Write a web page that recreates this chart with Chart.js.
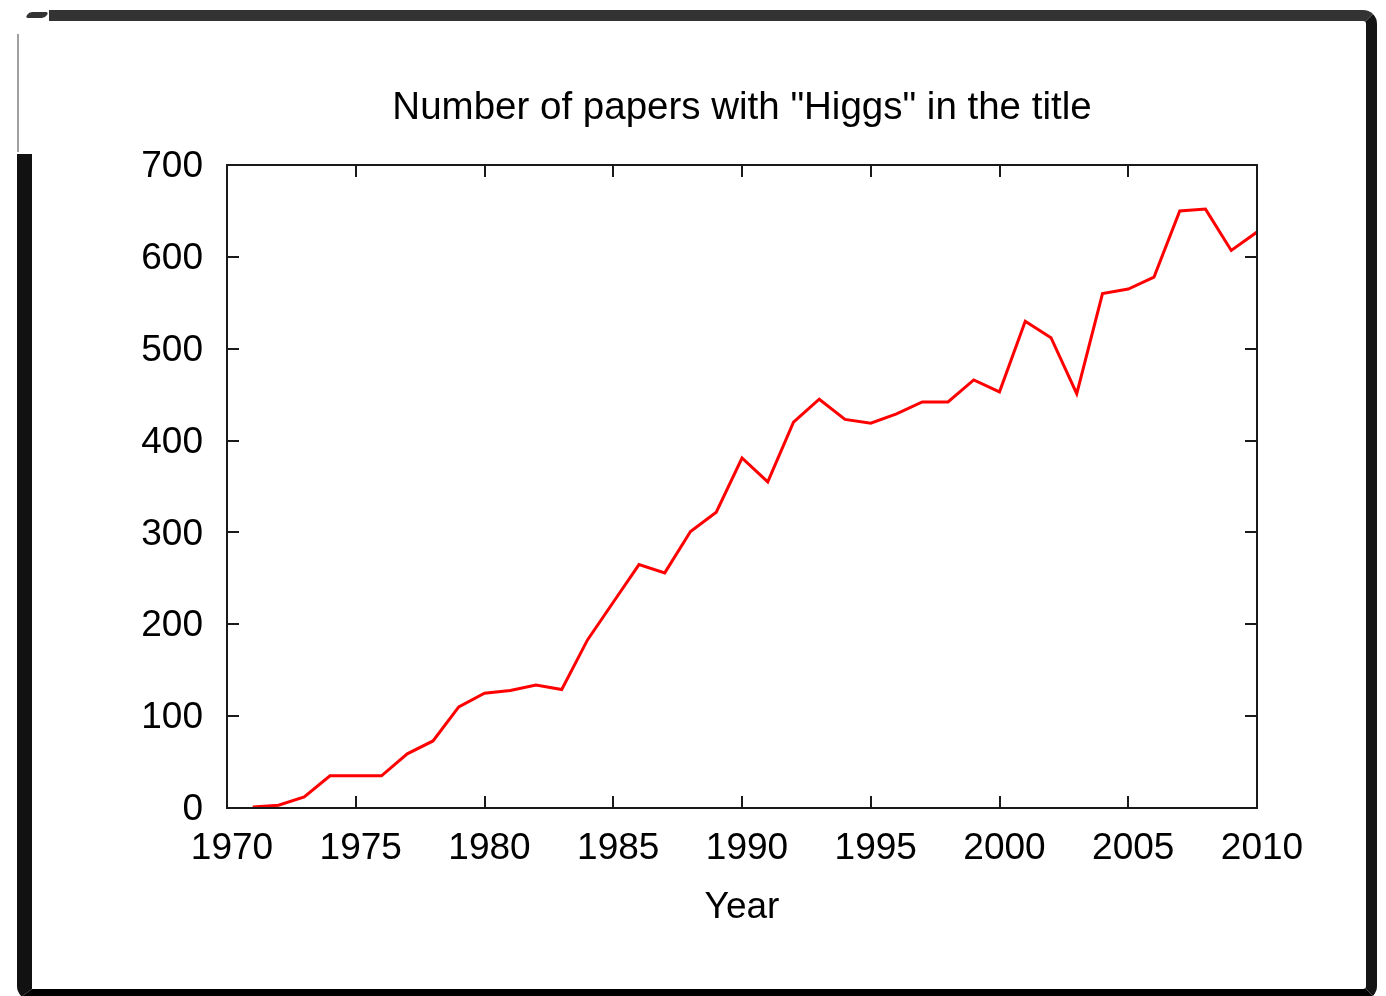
<!DOCTYPE html>
<html>
<head>
<meta charset="utf-8">
<script src="https://cdn.jsdelivr.net/npm/chart.js@4/dist/chart.umd.min.js"></script>
<style>
  html, body { margin: 0; padding: 0; background: #fff; }
  #wrap { position: relative; width: 1386px; height: 996px; overflow: hidden; }
  #chart { position: absolute; left: 0; top: 0; }
  .frame {
    position: absolute; left: 17px; top: 10px; width: 1360px; height: 990px;
    box-sizing: border-box;
    border-top: 11px solid #333;
    border-left: 15px solid #111;
    border-right: 11px solid #151515;
    border-bottom: 11px solid #000;
    border-radius: 14px;
    pointer-events: none;
  }
  .frame-gap { position: absolute; left: 17px; top: 24px; width: 16px; height: 130px; background: #fff; }
  .frame-thin { position: absolute; left: 17px; top: 34px; width: 2px; height: 118px; background: #a0a0a0; }
  .corner-gap { position: absolute; left: 15px; top: 8px; width: 34px; height: 16px; background: #fff; }
  .corner-bit { position: absolute; left: 27px; top: 12px; width: 20px; height: 6px; background: #333;
                border-radius: 3px; transform: skewX(-35deg); }
</style>
</head>
<body>
<div id="wrap">
  <canvas id="chart" width="1386" height="996"></canvas>
  <div class="frame"></div>
  <div class="frame-gap"></div>
  <div class="frame-thin"></div>
  <div class="corner-gap"></div>
  <div class="corner-bit"></div>
</div>
<script>
// Yearly count of papers with "Higgs" in the title
const years = [1971, 1972, 1973, 1974, 1975, 1976, 1977, 1978, 1979, 1980,
               1981, 1982, 1983, 1984, 1985, 1986, 1987, 1988, 1989, 1990,
               1991, 1992, 1993, 1994, 1995, 1996, 1997, 1998, 1999, 2000,
               2001, 2002, 2003, 2004, 2005, 2006, 2007, 2008, 2009, 2010];
const papers = [1, 3, 12, 35, 35, 35, 59, 73, 110, 125,
                128, 134, 129, 183, 224, 265, 256, 301, 322, 381,
                355, 420, 445, 423, 419, 429, 442, 442, 466, 453,
                530, 512, 451, 560, 565, 578, 650, 652, 607, 627];
const xTicks = [1970, 1975, 1980, 1985, 1990, 1995, 2000, 2005, 2010];
const yTicks = [0, 100, 200, 300, 400, 500, 600, 700];

const FONT = "'Liberation Sans', Arial, Helvetica, sans-serif";

// Closed frame around the plot with short ticks pointing inward on all four sides
const boxTicks = {
  id: 'boxTicks',
  afterDraw(chart) {
    const { ctx, chartArea: a, scales } = chart;
    const len = 12;
    ctx.save();
    ctx.strokeStyle = '#1a1a1a';
    ctx.lineWidth = 2;
    ctx.beginPath();
    xTicks.forEach(v => {
      const px = Math.round(scales.x.getPixelForValue(v));
      ctx.moveTo(px, a.bottom); ctx.lineTo(px, a.bottom - len);
      ctx.moveTo(px, a.top); ctx.lineTo(px, a.top + len);
    });
    yTicks.forEach(v => {
      const py = Math.round(scales.y.getPixelForValue(v));
      ctx.moveTo(a.left, py); ctx.lineTo(a.left + len, py);
      ctx.moveTo(a.right, py); ctx.lineTo(a.right - len, py);
    });
    ctx.stroke();
    ctx.strokeRect(a.left, a.top, a.right - a.left, a.bottom - a.top);
    ctx.restore();
  }
};

new Chart(document.getElementById('chart'), {
  type: 'line',
  data: {
    datasets: [{
      data: years.map((y, i) => ({ x: y, y: papers[i] })),
      borderColor: '#ff0000',
      borderWidth: 3,
      pointRadius: 0,
      tension: 0,
      fill: false
    }]
  },
  options: {
    responsive: false,
    animation: false,
    devicePixelRatio: 1,
    layout: { padding: { left: 0, right: 129, top: 0, bottom: 0 } },
    plugins: {
      legend: { display: false },
      tooltip: { enabled: false },
      title: { display: false }
    },
    scales: {
      x: {
        type: 'linear',
        min: 1970,
        max: 2010,
        afterBuildTicks(scale) { scale.ticks = xTicks.map(v => ({ value: v })); },
        afterFit(scale) { scale.height = 188; },
        ticks: {
          color: '#000',
          font: { family: FONT, size: 37 },
          padding: 19,
          labelOffset: 5,
          maxRotation: 0,
          autoSkip: false,
          callback: v => String(v)
        },
        grid: { display: false, drawTicks: false },
        border: { display: false },
        title: {
          display: true,
          text: 'Year',
          color: '#000',
          font: { family: FONT, size: 37 },
          padding: { top: 0, bottom: 66 }
        }
      },
      // top axis carries the chart heading, centred over the plot
      xTop: {
        type: 'linear',
        position: 'top',
        min: 1970,
        max: 2010,
        afterFit(scale) { scale.height = 165; },
        ticks: { display: false },
        grid: { display: false, drawTicks: false },
        border: { display: false },
        title: {
          display: true,
          text: 'Number of papers with "Higgs" in the title',
          color: '#000',
          font: { family: FONT, size: 38.5 },
          padding: { top: 85, bottom: 0 }
        }
      },
      y: {
        min: 0,
        max: 700,
        afterBuildTicks(scale) { scale.ticks = yTicks.map(v => ({ value: v })); },
        afterFit(scale) { scale.width = 227; },
        ticks: {
          color: '#000',
          font: { family: FONT, size: 37 },
          padding: 24,
          labelOffset: 2,
          callback: v => String(v)
        },
        grid: { display: false, drawTicks: false },
        border: { display: false }
      }
    }
  },
  plugins: [boxTicks]
});
</script>
</body>
</html>
